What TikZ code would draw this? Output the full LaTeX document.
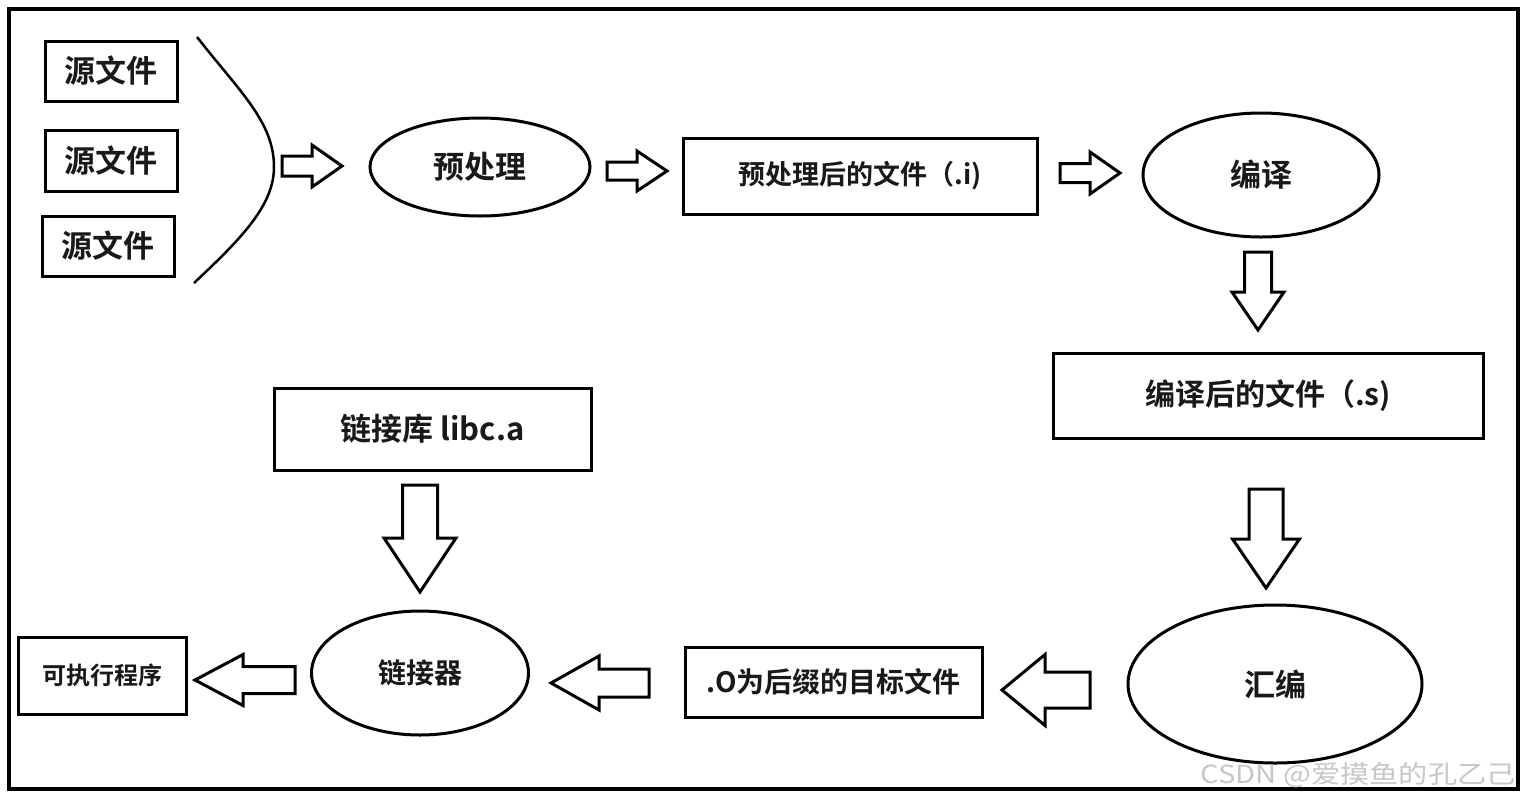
\documentclass[tikz,border=0pt]{standalone}
\usepackage{fontspec}
\usepackage{graphicx}
\newfontfamily\cjk{Noto Sans CJK SC}[BoldFont=* Bold]
\usetikzlibrary{shapes.geometric}
\newcommand\fsz[1]{\fontsize{#1}{#1}\selectfont}
\tikzset{
  box/.style={draw, line width=3, rectangle, inner sep=0pt, text=black!90},
  oval/.style={draw, ellipse, line width=3, inner sep=0pt, text=black!90},
  barrow/.style={draw, line width=3, line join=miter, fill=white},
}
% horizontal block arrow: tail x, head-base x, tip x, centre y, shaft half, head half
\newcommand\harr[6]{\draw[barrow] (#1,#4-#5) -- (#2,#4-#5) -- (#2,#4-#6) -- (#3,#4) -- (#2,#4+#6) -- (#2,#4+#5) -- (#1,#4+#5) -- cycle;}
% vertical block arrow: tail y, head-base y, tip y, centre x, shaft half, head half
\newcommand\varr[6]{\draw[barrow] (#4-#5,#1) -- (#4-#5,#2) -- (#4-#6,#2) -- (#4,#3) -- (#4+#6,#2) -- (#4+#5,#2) -- (#4+#5,#1) -- cycle;}
\begin{document}
\begin{tikzpicture}[x=1pt,y=-1pt]
\fill[white] (0,0) rectangle (1528,804);
\useasboundingbox (0,0) rectangle (1528,804);
\draw[line width=4] (9,9) rectangle (1518,789);

% source files
\node[box, minimum width=132, minimum height=60, font=\cjk\bfseries\fsz{31}] (s1) at (111,71) {源文件};
\node[box, minimum width=132, minimum height=61, font=\cjk\bfseries\fsz{31}] (s2) at (111,160.5) {源文件};
\node[box, minimum width=132, minimum height=60, font=\cjk\bfseries\fsz{31}] (s3) at (108,246) {源文件};
\draw[line width=2.5] (197,37) .. controls (240,92) and (274,122) .. (274,167) .. controls (274,205) and (242,238) .. (194,283);

% top row
\node[oval, minimum width=220, minimum height=98, font=\cjk\bfseries\fsz{31}] (pre) at (480,167) {预处理};
\node[box, minimum width=354, minimum height=76, font=\cjk\bfseries\fsz{27}] (fi) at (860,176) {预处理后的文件（.i)};
\node[oval, minimum width=236, minimum height=124, font=\cjk\bfseries\fsz{31}] (comp) at (1261,175) {编译};

% right column
\node[box, minimum width=430, minimum height=85, font=\cjk\bfseries\fsz{30}] (fsf) at (1268,395.5) {编译后的文件（.s)};
\node[oval, minimum width=294, minimum height=158, font=\cjk\bfseries\fsz{31}] (asm) at (1275,684) {汇编};

% bottom row
\node[box, minimum width=297, minimum height=70, font=\cjk\bfseries\fsz{28}] (fo) at (833.5,682) {.O为后缀的目标文件};
\node[oval, minimum width=217, minimum height=124, font=\cjk\bfseries\fsz{28}] (lnk) at (420,673) {链接器};
\node[box, minimum width=317, minimum height=82, font=\cjk\bfseries\fsz{31}] (lib) at (432.5,429) {链接库 libc.a};
\node[box, minimum width=168, minimum height=77, font=\cjk\bfseries\fsz{24}] (exe) at (102,675.5) {可执行程序};

% block arrows
\harr{282}{312}{342}{166}{10}{21}
\harr{607}{637}{667}{171}{9}{20}
\harr{1060}{1090}{1120}{173}{9.5}{21}
\varr{252}{292}{330}{1258}{13.5}{26}
\varr{489}{539}{588}{1266}{17}{33.5}
\harr{1090}{1045}{1002}{690}{18}{35.5}
\harr{649}{599}{551}{683}{14}{27}
\varr{485}{538}{592}{420}{17.5}{36}
\harr{295}{243}{195}{680}{13.5}{25.5}

% watermark
\node[anchor=east, inner sep=0pt, text=black!22, font=\cjk\fsz{25}] (wm) at (1516,775) {\scalebox{1.17}[1]{CSDN @爱摸鱼的孔乙己}};
\end{tikzpicture}
\end{document}
